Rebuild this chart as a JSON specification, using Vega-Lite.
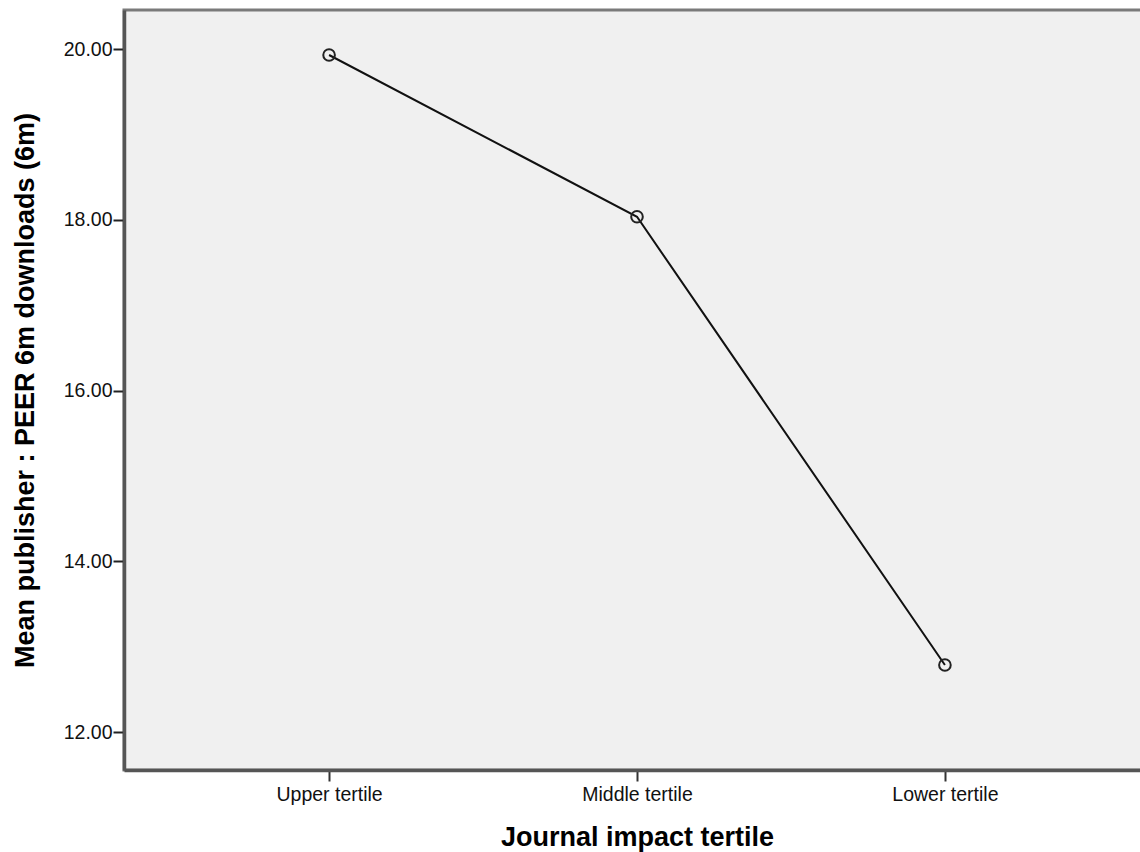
{
  "$schema": "https://vega.github.io/schema/vega-lite/v6.json",
  "autosize": "none",
  "width": 1026,
  "height": 760,
  "padding": {"left": 124, "top": 10, "right": -10, "bottom": 82},
  "background": "white",
  "config": {
    "view": {"fill": "#F0F0F0", "stroke": "#7a7a7a", "strokeWidth": 3},
    "font": "Liberation Sans"
  },
  "data": {
    "values": [
      {"tertile": "Upper tertile", "mean": 19.93},
      {"tertile": "Middle tertile", "mean": 18.035},
      {"tertile": "Lower tertile", "mean": 12.785}
    ]
  },
  "encoding": {
    "x": {
      "field": "tertile",
      "type": "ordinal",
      "sort": ["Upper tertile", "Middle tertile", "Lower tertile"],
      "scale": {"type": "point", "padding": 0.666},
      "axis": {
        "title": "Journal impact tertile",
        "titleFont": "Liberation Sans",
        "titleFontSize": 27,
        "titleFontWeight": "bold",
        "titleColor": "#000",
        "titlePadding": 21,
        "labelAngle": 0,
        "labelFont": "Liberation Sans",
        "labelFontSize": 19.5,
        "labelColor": "#111",
        "labelPadding": 4,
        "tickSize": 11,
        "tickColor": "#333",
        "tickWidth": 2,
        "domainColor": "#555",
        "domainWidth": 3.5,
        "grid": false
      }
    },
    "y": {
      "field": "mean",
      "type": "quantitative",
      "scale": {"domain": [11.555, 20.457], "nice": false, "zero": false},
      "axis": {
        "title": "Mean publisher : PEER 6m downloads (6m)",
        "titleFont": "Liberation Sans",
        "titleFontSize": 27,
        "titleFontWeight": "bold",
        "titleColor": "#000",
        "titlePadding": 24,
        "values": [12, 14, 16, 18, 20],
        "format": ".2f",
        "labelFont": "Liberation Sans",
        "labelFontSize": 19.5,
        "labelColor": "#111",
        "labelPadding": 1,
        "tickSize": 11,
        "tickColor": "#222",
        "tickWidth": 2,
        "domainColor": "#555",
        "domainWidth": 3.5,
        "grid": false
      }
    }
  },
  "layer": [
    {"mark": {"type": "line", "color": "#111", "strokeWidth": 2}},
    {"mark": {"type": "point", "shape": "circle", "size": 135, "filled": false, "color": "#222", "strokeWidth": 2, "opacity": 1}}
  ]
}
